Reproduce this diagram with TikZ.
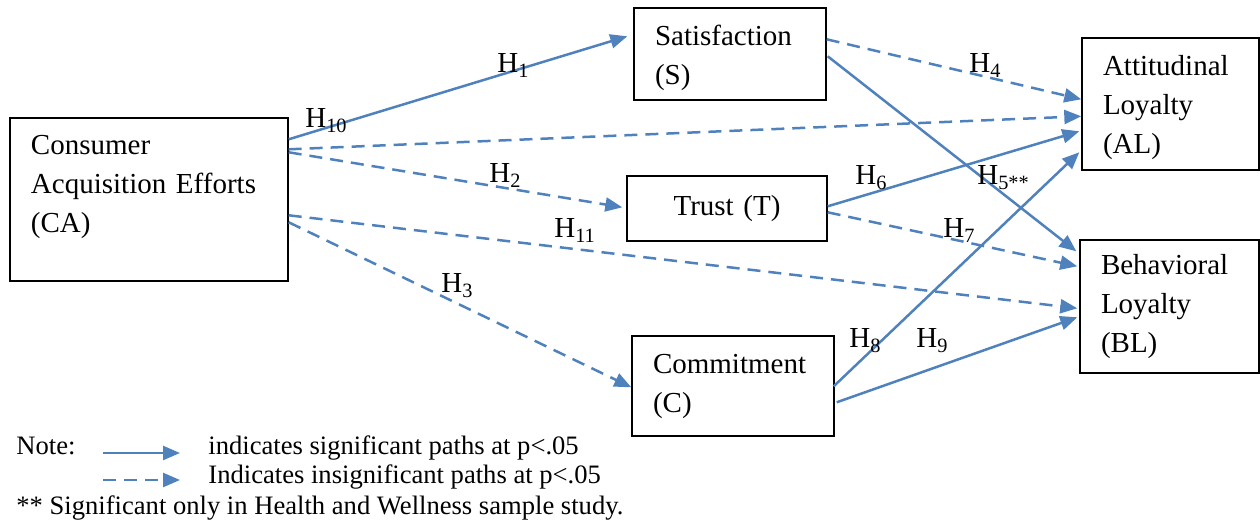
\documentclass[tikz,border=0pt]{standalone}
\usepackage{fontspec}
\setmainfont{Liberation Serif}
\usepackage{xcolor}
\usepackage{tikz}
\usetikzlibrary{calc,arrows.meta}
\definecolor{pathblue}{HTML}{4F81BD}

\begin{document}
\begin{tikzpicture}[x=0.5pt, y=-0.5pt,
  box/.style  = {draw, line width=0.7pt, align=left, inner xsep=10.5pt, inner ysep=0pt,
                 font=\fontsize{14.5}{19.5}\selectfont},
  sig/.style  = {-{Triangle[length=8.5pt,width=7pt]}, pathblue, line width=1.25pt},
  nsig/.style = {sig, dash pattern=on 6.5pt off 4pt},
  hlbl/.style = {anchor=base west, inner sep=0pt, font=\fontsize{14.5}{17}\selectfont},
  lgd/.style  = {anchor=base west, inner sep=0pt, font=\fontsize{13.3}{16}\selectfont}
]
\useasboundingbox (0,0) rectangle (1260,523);

% --- constructs ---
\node[box, minimum width=139pt, minimum height=81.5pt, text width=118pt, text depth=55pt]
  (ca) at (149,199.5) {Consumer\\Acquisition Efforts\\(CA)};
\node[box, minimum width=96pt, minimum height=46pt, text width=75pt, text depth=19pt]
  (sat) at (730,54) {Satisfaction\\(S)};
\node[box, align=center, minimum width=100pt, minimum height=32.5pt, text width=79pt]
  (tru) at (727,208.5) {Trust (T)};
\node[box, minimum width=101pt, minimum height=50pt, text width=80pt]
  (com) at (733,386) {Commitment\\(C)};
\node[box, minimum width=88.5pt, minimum height=66pt, text width=67.5pt, text depth=38.5pt]
  (al) at (1170.5,104) {Attitudinal\\Loyalty\\(AL)};
\node[box, minimum width=89.5pt, minimum height=66.5pt, text width=68.5pt]
  (bl) at (1169.5,306.5) {Behavioral\\Loyalty\\(BL)};

% --- paths from CA ---
\draw[sig]  ($(ca.north east)+(0,22)$)  -- ($(sat.north west)+(-6,29)$);
\draw[nsig] ($(ca.north east)+(0,32)$)  -- ($(al.north west)+(0,79)$);
\draw[nsig] ($(ca.north east)+(0,35)$)  -- ($(tru.north west)+(-4,32)$);
\draw[nsig] ($(ca.north east)+(0,98)$)  -- ($(bl.north west)+(-2,69)$);
\draw[nsig] ($(ca.north east)+(0,105)$) -- ($(com.north west)+(0,52)$);

% --- paths to loyalty ---
\draw[nsig] ($(sat.north east)+(0,32)$) -- ($(al.north west)+(0,62)$);
\draw[sig]  ($(sat.north east)+(1,49)$) -- ($(bl.north west)+(-3,12)$);
\draw[sig]  ($(tru.north east)+(0,31)$) -- ($(al.north west)+(-2,94)$);
\draw[nsig] ($(tru.north east)+(0,37)$) -- ($(bl.north west)+(-2,27)$);
\draw[sig]  ($(com.north east)+(-1,51)$) -- ($(al.north west)+(-2,115)$);
\draw[sig]  ($(com.north east)+(2,67)$) -- ($(bl.north west)+(-2,78)$);

% --- hypothesis labels ---
\node[hlbl] (h1)  at (497,73)  {H\textsubscript{1}};
\node[hlbl] (h10) at (305,128) {H\textsubscript{10}};
\node[hlbl] (h2)  at (489,183) {H\textsubscript{2}};
\node[hlbl] (h11) at (554,238) {H\textsubscript{11}};
\node[hlbl] (h3)  at (441,293) {H\textsubscript{3}};
\node[hlbl] (h4)  at (969,73)  {H\textsubscript{4}};
\node[hlbl] (h6)  at (855,185) {H\textsubscript{6}};
\node[hlbl] (h5)  at (977,185) {H\textsubscript{5**}};
\node[hlbl] (h7)  at (943,238) {H\textsubscript{7}};
\node[hlbl] (h8)  at (849,348) {H\textsubscript{8}};
\node[hlbl] (h9)  at (916,348) {H\textsubscript{9}};

% --- note ---
\node[lgd] (note) at (16,455) {Note:};
\coordinate (sig-a)  at (103,453);
\coordinate (sig-b)  at (180,453);
\coordinate (nsig-a) at (103,480);
\coordinate (nsig-b) at (180,480);
\draw[sig]  (sig-a)  -- (sig-b);
\draw[nsig] (nsig-a) -- (nsig-b);
\node[lgd] (sig-txt)  at (208,455) {indicates significant paths at p<.05};
\node[lgd] (nsig-txt) at (208,484) {Indicates insignificant paths at p<.05};
\node[lgd] (stars)    at (16,515)  {** Significant only in Health and Wellness sample study.};
\end{tikzpicture}
\end{document}
